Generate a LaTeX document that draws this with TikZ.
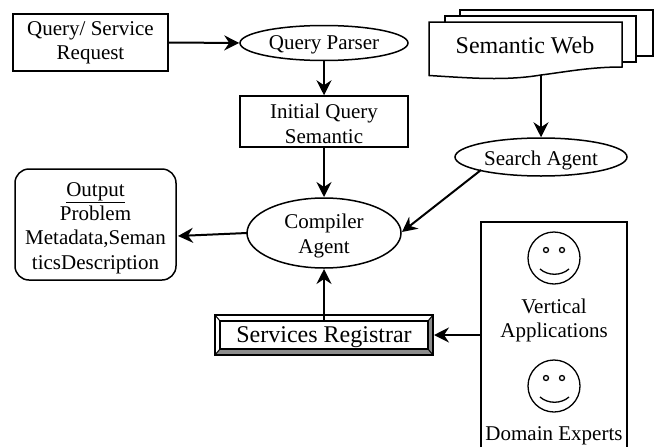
\documentclass[tikz,border=0pt]{standalone}
\usepackage{fontspec}
\setmainfont{Liberation Serif}
\usetikzlibrary{shapes.geometric,arrows.meta}
\newcommand{\tallfirst}[1]{\rule{0pt}{#1pt}}
\tikzset{
  x=1pt,y=-1pt,
  txt/.style={font=\fontsize{21}{24.4}\selectfont,align=center,inner sep=0pt},
  big/.style={font=\fontsize{24}{27}\selectfont,align=center,inner sep=0pt},
  boxn/.style={draw,line width=1.5pt,fill=white,txt,anchor=center},
  ell/.style={draw,line width=1.5pt,fill=white,ellipse,txt,inner sep=0pt},
  conn/.style={line width=2pt,-{Stealth[length=15pt,width=15pt,inset=5pt]}},
  plain/.style={line width=1.5pt},
  face/.style={line width=1.3pt},
}
\begin{document}
\begin{tikzpicture}
\useasboundingbox (0,0) rectangle (655,447);
\node[boxn,minimum width=155,minimum height=57] (req) at (90.5,42.5) {Query/ Service\\Request};
\node[ell,minimum width=168,minimum height=35] (parser) at (324,43) {\tallfirst{18.5}Query Parser};
\node[boxn,minimum width=168,minimum height=51] (init) at (324,121.5) {\tallfirst{19.5}Initial Query\\Semantic};
\node[draw,line width=1.5pt,rounded corners=14pt,fill=white,txt,minimum width=161,minimum height=111] (out) at (95.5,224.5) {\tallfirst{21}\underline{Output}\\Problem\\Metadata,Seman\\ticsDescription};
\node[ell,minimum width=154,minimum height=70] (comp) at (324,233) {\tallfirst{20.5}Compiler\\Agent};
% semantic web stack
\draw[plain,fill=white] (460,10) -- (653,10) -- (653,56) -- (460,56) -- cycle;
\draw[plain,fill=white] (445,16) -- (636,16) -- (636,62) -- (445,62) -- cycle;
\draw[plain,fill=white] (429,22) -- (622,22) -- (622,67) .. controls (590,67) and (565,72) .. (541,75) .. controls (505,81) and (470,78) .. (429,75.5) -- cycle;
\node[big] (web) at (525,45) {Semantic Web};
\coordinate (webb) at (541,75);
\node[ell,minimum width=172,minimum height=38] (search) at (541,157) {\tallfirst{22}Search Agent};
% registrar
\draw[plain,fill=white] (215,315) rectangle (433,355);
\fill[gray!90] (433,315) -- (428,321) -- (428,349) -- (433,355) -- cycle;
\fill[gray!90] (215,355) -- (220,349) -- (428,349) -- (433,355) -- cycle;
\draw[plain] (215,315) rectangle (433,355);
\draw[line width=1pt] (215,315) -- (220,321) (433,315) -- (428,321) (215,355) -- (220,349) (433,355) -- (428,349);
\node[draw,line width=1.5pt,fill=white,minimum width=208,minimum height=28,big] (reg) at (324,335) {\tallfirst{20.6}Services Registrar};
\coordinate (regE) at (434,335);
% right panel
\draw[plain,fill=white] (481,447) -- (481,222) -- (627,222) -- (627,447);
\coordinate (pw) at (481,335);
\node[txt] (va) at (554,320.5) {Vertical\\Applications};
\node[txt] (de) at (554,436) {Domain Experts};
\foreach \y in {258,386}{
  \draw[face] (554,\y) circle (26);
  \draw[face] (546,\y-8) circle (2.5) (562,\y-8) circle (2.5);
  \draw[face] (540,\y+11) .. controls (548,\y+18) and (561,\y+18) .. (569,\y+11);
}
% connectors
\coordinate (outin) at (178,236);
\coordinate (compN) at (324,197);
\coordinate (compS) at (324,269);
\coordinate (compE) at (402,232);
\coordinate (compW) at (247,233);
\coordinate (searchSW) at (481,170);
\draw[conn] (req.east) -- (parser.west);
\draw[conn] (parser.south) -- (init.north);
\draw[conn] (init.south) -- (compN);
\draw[conn] (webb) -- (search.north);
\draw[conn] (searchSW) -- (compE);
\draw[conn] (compW) -- (outin);
\draw[conn] (reg.north) -- (compS);
\draw[conn] (pw) -- (regE);
\end{tikzpicture}
\end{document}
